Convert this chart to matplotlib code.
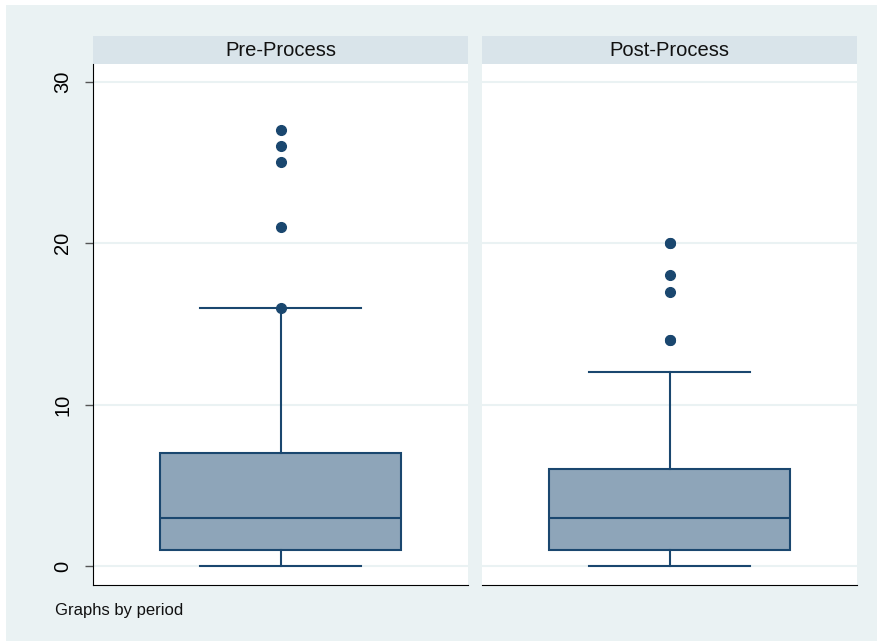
import matplotlib.pyplot as plt
from matplotlib.patches import Rectangle

plt.rcParams['font.family'] = ['Liberation Sans', 'DejaVu Sans']

# box summaries per period (low whisker, q1, median, q3, high whisker, outliers)
periods = ['Pre-Process', 'Post-Process']
whislo = [0, 0]
q1 = [1, 1]
med = [3, 3]
q3 = [7, 6]
whishi = [16, 12]
fliers = [[16, 21, 25, 26, 27], [14, 14, 17, 18, 20, 20]]
yticks = [0, 10, 20, 30]

navy = '#1a476f'
fill = '#8ea5b9'
bg = '#eaf2f3'
strip = '#d9e4ea'

fig = plt.figure(figsize=(8.77, 6.43), dpi=100)
fig.patch.set_facecolor('white')
fig.patches.append(Rectangle((6/877, 2/643), 871/877, 636/643, transform=fig.transFigure,
                             facecolor=bg, edgecolor='none', zorder=-10))

W, H = 877, 643
lefts = [93, 482]
pw = 375
bottom, top = 585, 64

for i, name in enumerate(periods):
    ax = fig.add_axes([lefts[i]/W, (H-bottom)/H, pw/W, (bottom-top)/H])
    ax.set_facecolor('white')
    st = [dict(whislo=whislo[i], q1=q1[i], med=med[i], q3=q3[i], whishi=whishi[i],
               fliers=fliers[i])]
    ax.bxp(st, positions=[0.5], widths=0.642, patch_artist=True,
           boxprops=dict(facecolor=fill, edgecolor=navy, linewidth=1.5),
           medianprops=dict(color=navy, linewidth=1.5),
           whiskerprops=dict(color=navy, linewidth=1.5),
           capprops=dict(color=navy, linewidth=1.5),
           flierprops=dict(marker='o', markerfacecolor=navy, markeredgecolor=navy,
                           markersize=7),
           capwidths=0.428)
    ax.set_xlim(0, 1)
    ax.set_ylim(-1.18, 31.1)
    ax.set_xticks([])
    ax.set_yticks(yticks)
    for y in yticks:
        ax.axhline(y, color=bg, linewidth=1.5, zorder=0)
    for s in ['top', 'right']:
        ax.spines[s].set_visible(False)
    ax.spines['bottom'].set_color('black')
    if i == 0:
        ax.spines['left'].set_color('black')
        ax.tick_params(axis='y', length=6, width=1, color='#555555', labelsize=14.5,
                       pad=9)
        for lb in ax.get_yticklabels():
            lb.set_rotation(90)
            lb.set_va('center')
    else:
        ax.spines['left'].set_visible(False)
        ax.tick_params(axis='y', length=0, labelleft=False)
    # panel header strip
    ax.add_patch(Rectangle((0, 1), 1, 28/521, transform=ax.transAxes,
                           facecolor=strip, edgecolor='none', clip_on=False))
    ax.text(0.5, 1 + 14/521, name, transform=ax.transAxes, ha='center', va='center',
            fontsize=14.5, color='#111111')

fig.text(55/W, 1 - 610/H, 'Graphs by period', ha='left', va='center',
         fontsize=12, color='#111111')

fig.savefig('out.png', dpi=100)
